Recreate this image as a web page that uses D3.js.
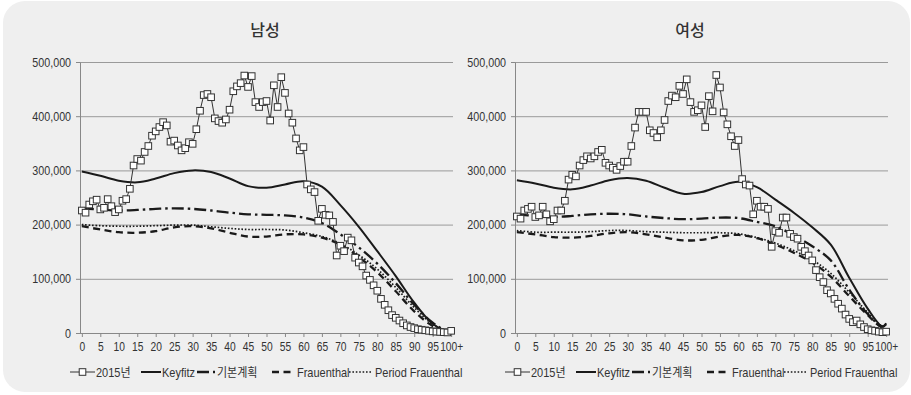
<!DOCTYPE html>
<html>
<head>
<meta charset="utf-8">
<script src="https://cdn.jsdelivr.net/npm/d3@7"></script>
<style>
  body { margin: 0; background: #fff; }
  svg { display: block; }
  text { font-family: "Liberation Sans", Arial, "Noto Sans CJK KR", sans-serif; fill: #333; }
  .cond { transform-box: fill-box; }
  .cond-r { transform-origin: right center; transform: scaleX(0.86); }
  .cond-c { transform-origin: center center; transform: scaleX(0.82); }
  .cond-l { transform-origin: left center; transform: scaleX(0.88); }
</style>
</head>
<body>
<div id="chart"></div>
<script>
// tick labels (every 5th age class)
const xLabels = ["0","5","10","15","20","25","30","35","40","45","50","55","60","65","70","75","80","85","90","95","100+"];
const yTicks = [0, 100, 200, 300, 400, 500]; // thousands
const seriesNames = ["2015년", "Keyfitz", "기본계획", "Frauenthal", "Period Frauenthal"];

// 2015 population by single age 0..100+ (thousands)
const male2015 = [226,222,237,243,246,228,231,247,234,223,228,244,247,266,309,321,318,334,345,364,
  372,380,389,383,353,355,346,337,341,352,349,376,410,439,441,435,396,391,388,394,
  412,446,455,461,475,454,474,426,417,426,428,392,457,417,472,443,405,388,359,337,
  343,274,265,260,207,229,218,217,205,143,161,151,176,171,139,130,123,106,98,88,
  78,63,52,42,33,28,23,18,14,11,9,7,6,5,4,3,2.5,2,1.5,1,4];
const female2015 = [215,211,226,229,233,214,217,233,219,206,210,226,226,244,283,292,289,309,319,326,
  322,326,334,338,314,309,305,301,308,316,316,345,379,408,408,408,374,369,361,374,
  393,428,438,435,456,441,468,426,408,411,420,380,437,409,476,453,407,385,363,345,
  356,284,274,272,219,244,233,233,229,159,188,185,213,213,183,177,174,159,151,143,
  134,116,103,94,79,73,63,54,45,34,26,20,23,16,11,7,5,4,2.5,1.5,2.5];

// stable-population curves, read at these ages (thousands)
const lineAges = [0,5,10,15,20,25,30,35,40,45,50,55,60,65,70,75,80,85,90,95,99,100];
const maleKeyfitz = [298,290,281,278,285,295,300,297,285,271,268,274,280,270,236,196,151,105,56,17,4,6];
const malePlan    = [230,228,226,227,229,230,229,226,222,219,218,217,213,203,182,158,128,92,52,19,4,5];
const maleFrau    = [197,191,186,185,188,195,197,193,185,178,178,182,182,176,163,140,112,77,40,13,3,4];
const malePeriod  = [200,198,197,197,198,199,199,196,193,191,191,190,185,178,165,144,118,84,47,16,3,4];
const femaleKeyfitz = [282,276,268,265,272,282,286,281,268,257,260,271,279,269,246,222,195,163,102,45,12,18];
const femalePlan    = [219,216,214,216,219,220,219,215,212,210,211,213,212,205,197,180,160,134,80,35,12,16];
const femaleFrau    = [186,182,177,176,179,184,186,182,176,171,172,178,181,175,163,148,130,104,68,33,10,12];
const femalePeriod  = [189,186,186,186,187,189,189,187,186,185,185,185,183,176,166,152,135,110,75,38,12,12];

const W = 911, H = 395;
const svg = d3.select("#chart").append("svg").attr("width", W).attr("height", H);

// panel background
svg.append("rect")
  .attr("x", 3).attr("y", 1).attr("width", 907).attr("height", 391)
  .attr("rx", 22).attr("ry", 22)
  .attr("fill", "#efefef");

const lineStyles = [
  null,
  { width: 2, dash: null },
  { width: 2.3, dash: "12,4,2.5,4" },
  { width: 2.3, dash: "7,4.5" },
  { width: 1.7, dash: "1.6,1.8" }
];

function drawPanel(left, title, titleX, observed, curves) {
  const x = d3.scalePoint()
    .domain(d3.range(101))
    .range([left, left + 373])
    .padding(0.5);
  const y = d3.scaleLinear().domain([0, 500]).range([333, 62]);

  const g = svg.append("g");

  // gridlines
  g.append("g")
    .attr("transform", `translate(${left},0)`)
    .call(d3.axisLeft(y).tickValues(yTicks.slice(1)).tickSize(-373).tickFormat(""))
    .call(s => s.select(".domain").remove())
    .call(s => s.selectAll("line").attr("stroke", "#9a9a9a"));

  // y axis
  g.append("g")
    .attr("transform", `translate(${left},0)`)
    .call(d3.axisLeft(y).tickValues(yTicks).tickSize(4).tickSizeOuter(0).tickPadding(5)
      .tickFormat(d => d3.format(",")(d * 1000)))
    .call(s => s.select(".domain").attr("stroke", "#888"))
    .call(s => s.selectAll("line").attr("stroke", "#888"))
    .call(s => s.selectAll("text").attr("font-size", 12.5).attr("fill", "#333")
      .attr("font-family", null).attr("class", "cond cond-r"));

  // x axis
  g.append("g")
    .attr("transform", `translate(0,333)`)
    .call(d3.axisBottom(x).tickValues(d3.range(0, 101, 5)).tickSize(4).tickSizeOuter(0).tickPadding(5)
      .tickFormat(d => xLabels[d / 5]))
    .call(s => s.select(".domain").attr("stroke", "#888").attr("d", `M${left},0.5H${left + 373}`))
    .call(s => s.selectAll("line").attr("stroke", "#888"))
    .call(s => s.selectAll("text").attr("font-size", 12.5).attr("fill", "#333")
      .attr("font-family", null).attr("class", "cond cond-c"));

  // title
  g.append("text")
    .attr("x", titleX).attr("y", 36)
    .attr("text-anchor", "middle")
    .attr("font-size", 16)
    .attr("font-weight", 500)
    .style("font-family", '"Noto Sans CJK KR", sans-serif')
    .attr("fill", "#222")
    .text(title);

  // smooth curves
  const line = d3.line()
    .x(d => x(d[0]))
    .y(d => y(d[1]))
    .curve(d3.curveCatmullRom.alpha(0.5));

  curves.forEach((vals, i) => {
    const st = lineStyles[i + 1];
    g.append("path")
      .datum(lineAges.map((a, k) => [a, vals[k]]))
      .attr("fill", "none")
      .attr("stroke", "#1a1a1a")
      .attr("stroke-width", st.width)
      .attr("stroke-dasharray", st.dash)
      .attr("d", line);
  });

  // 2015 observed
  const obs = observed.map((v, a) => [a, v]);
  g.append("path")
    .datum(obs)
    .attr("fill", "none")
    .attr("stroke", "#333")
    .attr("stroke-width", 1)
    .attr("d", d3.line().x(d => x(d[0])).y(d => y(d[1])));

  g.selectAll(".mk")
    .data(obs)
    .join("rect")
    .attr("class", "mk")
    .attr("x", d => x(d[0]) - 3.3)
    .attr("y", d => y(d[1]) - 3.3)
    .attr("width", 6.6).attr("height", 6.6)
    .attr("fill", "#fff")
    .attr("stroke", "#333")
    .attr("stroke-width", 1);

  // legend
  const lg = g.append("g").attr("transform", `translate(${left - 10},372)`);
  const items = [
    { s0: 0, s1: 25, t: 26 },
    { s0: 71, s1: 91, t: 92 },
    { s0: 127, s1: 145, t: 147 },
    { s0: 202, s1: 222, t: 227 },
    { s0: 279, s1: 302, t: 305 }
  ];
  items.forEach((it, i) => {
    const st = lineStyles[i];
    lg.append("line")
      .attr("x1", it.s0).attr("x2", it.s1).attr("y1", 0).attr("y2", 0)
      .attr("stroke", i === 0 ? "#333" : "#1a1a1a")
      .attr("stroke-width", i === 0 ? 1 : st.width)
      .attr("stroke-dasharray", i === 0 ? null : st.dash);
    if (i === 0) {
      lg.append("rect")
        .attr("x", (it.s0 + it.s1) / 2 - 3.3).attr("y", -3.3)
        .attr("width", 6.6).attr("height", 6.6)
        .attr("fill", "#fff").attr("stroke", "#333");
    }
    lg.append("text")
      .attr("class", "cond cond-l")
      .attr("x", it.t).attr("y", 4.5)
      .attr("font-size", 12.5)
      .text(seriesNames[i]);
  });
}

drawPanel(80, "남성", 265, male2015, [maleKeyfitz, malePlan, maleFrau, malePeriod]);
drawPanel(515, "여성", 690, female2015, [femaleKeyfitz, femalePlan, femaleFrau, femalePeriod]);
</script>
</body>
</html>
